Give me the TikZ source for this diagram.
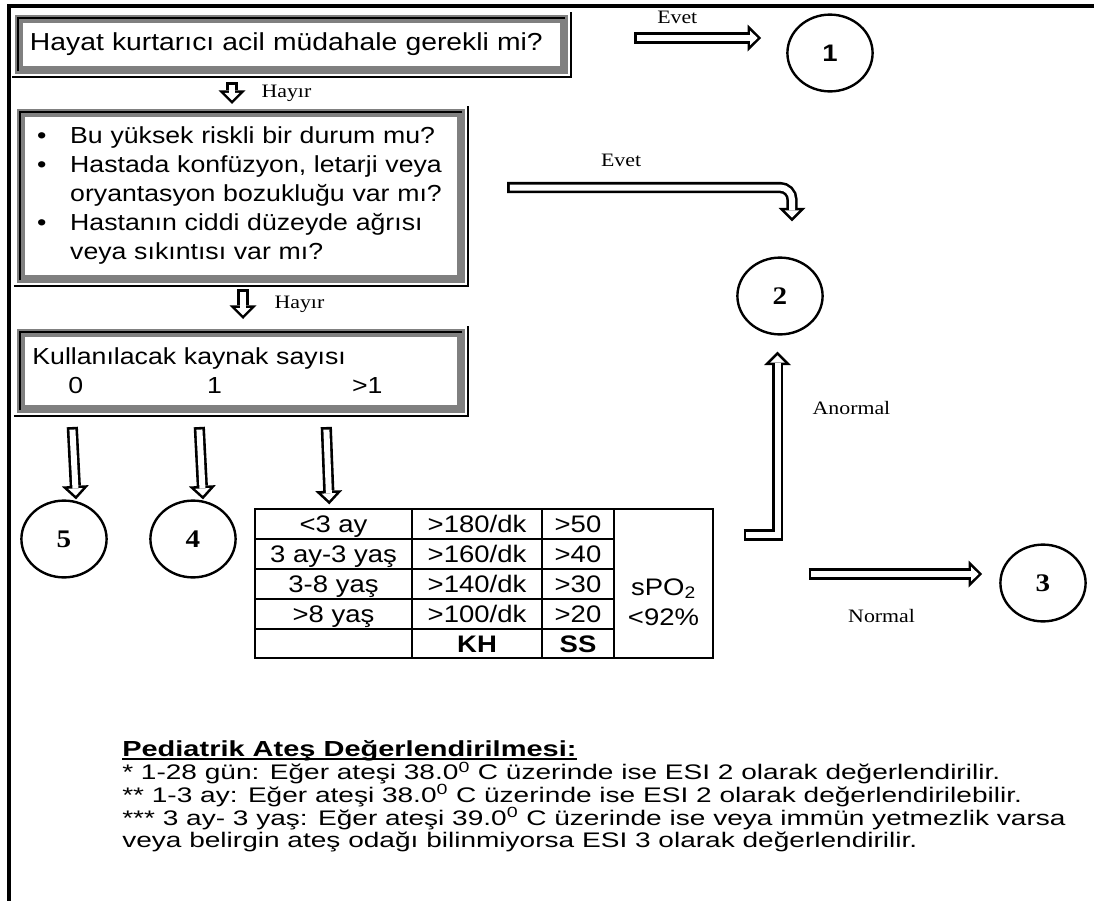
\documentclass[tikz,border=0pt]{standalone}
\usepackage{fontspec}
\setmainfont{Liberation Sans}
\newfontfamily\boxfont{Liberation Sans}[FakeStretch=1.15]
\newfontfamily\notefont{Liberation Sans}[FakeStretch=1.33]
\newfontfamily\labelfont{Liberation Serif}[FakeStretch=1.15]
\usepackage{tikz}
\usetikzlibrary{shapes.geometric, arrows.meta, positioning, calc}

\begin{document}
\begin{tikzpicture}[x=0.25mm, y=-0.25mm,
    qbox/.style={draw=gray, line width=2mm, fill=white, align=left, inner ysep=0pt, font=\boxfont\fontsize{16.5}{20.6}\selectfont},
    edge/.style={draw=black, line width=0.5mm},
    esi/.style={ellipse, draw, line width=0.6mm, minimum width=21.3mm, minimum height=19.2mm, inner sep=0pt, font=\labelfont\bfseries\fontsize{18}{18}\selectfont},
    hollow/.style={draw=black, line width=2.8mm, line join=miter, -{Triangle[length=3.4mm, width=6.75mm, line width=0pt]},
      postaction={draw=white, line width=1.5mm, shorten <=0.65mm, shorten >=0.92mm, -{Triangle[length=1.83mm, width=3.63mm, line width=0pt]}}},
    lbl/.style={font=\labelfont\fontsize{13.5}{13.5}\selectfont, inner sep=0pt},
    cell/.style={font=\boxfont\fontsize{17}{17}\selectfont, inner sep=0pt, text height=12.2pt, text depth=0pt}
  ]
  \useasboundingbox (0,0) rectangle (1094,901);

  % Frame
  \draw[line width=1mm] (9,901) -- (9,6) -- (1094,6);

  % Questions
  \node[qbox, font=\boxfont\fontsize{17.5}{20.6}\selectfont, text width=130.75mm, inner xsep=2.75mm, minimum height=12.75mm] (hayat) at (291.5,44.5) {Hayat kurtarıcı acil müdahale gerekli mi?};
  \node[qbox, text width=101.9mm, inner xsep=4.1mm, minimum height=41.25mm] (risk) at (241,196) {\begin{tabular}{@{}p{8.25mm}@{}l@{}}
      \textbullet & Bu yüksek riskli bir durum mu?\\
      \textbullet & Hastada konfüzyon, letarji veya\\
                  & oryantasyon bozukluğu var mı?\\
      \textbullet & Hastanın ciddi düzeyde ağrısı\\
                  & veya sıkıntısı var mı?
    \end{tabular}};
  \node[qbox, text width=104.3mm, inner xsep=2.9mm, minimum height=19mm] (kaynak) at (241,370.5) {Kullanılacak kaynak sayısı\\\hspace*{9mm}0\hspace{31mm}1\hspace{32.5mm}>1};
  \foreach \bx in {hayat,risk,kaynak} {
    \draw[edge] ([shift={(3,-3)}]\bx.south west) -- ([shift={(3,3)}]\bx.north west) -- ([shift={(-3,3)}]\bx.north east);
    \draw[edge] ([shift={(-3,3)}]\bx.south west) -- ([shift={(3,3)}]\bx.south east) -- ([shift={(3,-3)}]\bx.north east);
  }

  % ESI levels
  \node[esi, font=\boxfont\bfseries\fontsize{17}{17}\selectfont] (one) at (830,53) {1};
  \node[esi] (two) at (780,296) {2};
  \node[esi] (three) at (1043,583) {3};
  \node[esi] (four) at (193,539) {4};
  \node[esi] (five) at (64,539) {5};

  % Vital signs table
  \node[draw, line width=0.35mm, minimum width=114.5mm, minimum height=37.25mm, inner sep=0pt] (tbl) at (484,583.5) {};
  \foreach \x in {412,542,614} \draw[line width=0.35mm] (\x,509) -- (\x,658);
  \foreach \y in {539,569,599,629} \draw[line width=0.35mm] (255,\y) -- (614,\y);
  \foreach \age/\kh/\ss [count=\i] in {{<3 ay}/{>180/dk}/{>50}, {3 ay-3 yaş}/{>160/dk}/{>40}, {3-8 yaş}/{>140/dk}/{>30}, {>8 yaş}/{>100/dk}/{>20}, {}/{\textbf{KH}}/{\textbf{SS}}} {
    \node[cell] (age\i) at (333.5,494+\i*30) {\age};
    \node[cell] (kh\i) at (477,494+\i*30) {\kh};
    \node[cell] (ss\i) at (578,494+\i*30) {\ss};
  }
  \node[align=center, inner sep=0pt, font=\boxfont\fontsize{17}{21.3}\selectfont] (spo) at (663.5,602) {sPO\textsubscript{2}\\<92\%};

  % Arrows
  \draw[hollow] ($(hayat.east)+(66,-6.5)$) -- node[lbl, pos=0.34, above=2.3mm] {Evet} ($(one.west)+(-25,-15)$);
  \draw[hollow] ($(hayat.south)+(-59.5,8)$) -- node[lbl, right=6mm] {Hayır} ($(risk.north)+(-9,-5.5)$);
  \draw[hollow, rounded corners=3mm] ($(risk.east)+(42,-8.5)$) -| node[lbl, pos=0.2, above=3.9mm] {Evet} ($(two.north)+(12,-35)$);
  \draw[hollow] ($(risk.south)+(2,6.5)$) -- node[lbl, right=6.5mm] {Hayır} ($(kaynak.north)+(2,-9.5)$);
  \draw[hollow] ($(kaynak.south west)+(55.5,14.5)$) -- ($(five.north)+(12,0)$);
  \draw[hollow] ($(kaynak.south west)+(182.5,14.5)$) -- ($(four.north)+(10,0)$);
  \draw[hollow] ($(kaynak.south west)+(309.5,14.5)$) -- ($(tbl.north west)+(75,-4)$);
  \draw[hollow] ($(tbl.east)+(30,-48.5)$) -| node[lbl, pos=0.847, right=7.4mm] {Anormal} ($(two.south)+(-2.5,16)$);
  \draw[hollow] ($(tbl.east)+(95,-9.5)$) -- node[lbl, pos=0.42, below=7.5mm] {Normal} ($(three.west)+(-17,-9)$);

  % Notes
  \node[anchor=north west, inner sep=0pt, text depth=0pt, font=\notefont\bfseries\fontsize{15.5}{16.2}\selectfont] (title) at (122,740) {Pediatrik Ateş Değerlendirilmesi:};
  \draw[line width=0.4mm] ([yshift=-0.55mm]title.south west) -- ([yshift=-0.55mm]title.south east);
  \node[anchor=north west, align=left, inner sep=0pt, font=\notefont\fontsize{15}{16.2}\selectfont] (notes) at ($(title.south west)+(0,5)$) {{}* 1-28 gün: Eğer ateşi 38.0\textsuperscript{0} C üzerinde ise ESI 2 olarak değerlendirilir.\\
    {}** 1-3 ay: Eğer ateşi 38.0\textsuperscript{0} C üzerinde ise ESI 2 olarak değerlendirilebilir.\\
    {}*** 3 ay- 3 yaş: Eğer ateşi 39.0\textsuperscript{0} C üzerinde ise veya immün yetmezlik varsa\\
    veya belirgin ateş odağı bilinmiyorsa ESI 3 olarak değerlendirilir.};
\end{tikzpicture}
\end{document}
